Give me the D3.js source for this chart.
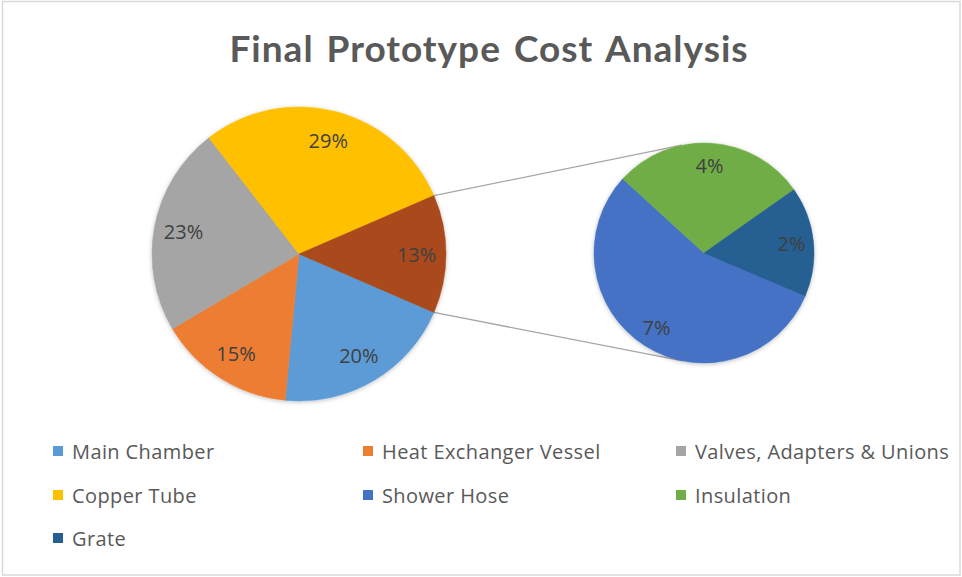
<!DOCTYPE html>
<html>
<head>
<meta charset="utf-8">
<script src="https://cdn.jsdelivr.net/npm/d3@7"></script>
<style>
  html, body { margin: 0; padding: 0; background: #fff; }
  svg { display: block; }
</style>
</head>
<body>
<svg id="chart" width="962" height="577"></svg>
<script>
// ---- data ----
const title = "Final Prototype Cost Analysis";
const mainCategories = ["Main Chamber", "Heat Exchanger Vessel", "Valves, Adapters & Unions", "Copper Tube"];
const mainValues = [20, 15, 23, 29];
const secondCategories = ["Shower Hose", "Insulation", "Grate"];
const secondValues = [7.2, 3.7, 2.1];
const legendOrder = ["Main Chamber", "Heat Exchanger Vessel", "Valves, Adapters & Unions",
                     "Copper Tube", "Shower Hose", "Insulation", "Grate"];

// ---- styles ----
const colors = {
  "Main Chamber": "#5B9BD5",
  "Heat Exchanger Vessel": "#ED7D31",
  "Valves, Adapters & Unions": "#A5A5A5",
  "Copper Tube": "#FFC000",
  "Other": "#A9481A",
  "Shower Hose": "#4472C4",
  "Insulation": "#70AD47",
  "Grate": "#255E91"
};

const svg = d3.select("#chart");
const W = 962, H = 577;

svg.append("rect").attr("width", W).attr("height", H).attr("fill", "#fff");
svg.append("rect")
  .attr("x", 2.5).attr("y", 1.5).attr("width", W - 4.5).attr("height", H - 3.5)
  .attr("fill", "none").attr("stroke", "#d9d9d9").attr("stroke-width", 1.5);

const defs = svg.append("defs");
const f = defs.append("filter").attr("id", "shadow")
  .attr("x", "-10%").attr("y", "-10%").attr("width", "120%").attr("height", "120%");
f.append("feDropShadow").attr("dx", 0).attr("dy", 1).attr("stdDeviation", 2)
  .attr("flood-color", "#000").attr("flood-opacity", 0.25);

svg.append("text")
  .attr("x", 489).attr("y", 62)
  .attr("text-anchor", "middle")
  .attr("font-family", "Lato, 'Open Sans', sans-serif")
  .attr("font-weight", "bold")
  .attr("font-size", 37)
  .attr("letter-spacing", 1)
  .attr("word-spacing", 3)
  .attr("fill", "#595959")
  .text(title);

const otherValue = d3.sum(secondValues);
const total = d3.sum(mainValues) + otherValue;
const mainData = mainCategories.map((c, i) => ({ name: c, value: mainValues[i] }))
  .concat([{ name: "Other", value: otherValue }]);
const secondData = secondCategories.map((c, i) => ({ name: c, value: secondValues[i] }));

const mainC = { x: 299, y: 254, r: 147 };
const secC = { x: 704, y: 253, r: 110 };

const otherAngle = 2 * Math.PI * otherValue / total;
const mainStart = Math.PI / 2 + otherAngle / 2;
const mainPie = d3.pie().sort(null).value(d => d.value)
  .startAngle(mainStart).endAngle(mainStart + 2 * Math.PI);
const secStart = 113 * Math.PI / 180;
const secPie = d3.pie().sort(null).value(d => d.value)
  .startAngle(secStart).endAngle(secStart + 2 * Math.PI);

// connector lines (tangents from the "Other" wedge corners to the secondary pie)
function corner(a) {
  return [mainC.x + mainC.r * Math.sin(a), mainC.y - mainC.r * Math.cos(a)];
}
function tangent(P, sign) {
  const dx = secC.x - P[0], dy = secC.y - P[1];
  const d = Math.hypot(dx, dy);
  const theta = Math.atan2(dy, dx);
  const alpha = Math.asin(secC.r / d);
  const L = Math.sqrt(d * d - secC.r * secC.r);
  const t = theta + sign * alpha;
  return [P[0] + L * Math.cos(t), P[1] + L * Math.sin(t)];
}
const pTop = corner(Math.PI / 2 - otherAngle / 2);
const pBot = corner(Math.PI / 2 + otherAngle / 2);
const lines = [[pTop, tangent(pTop, -1)], [pBot, tangent(pBot, 1)]];
svg.append("g").selectAll("line").data(lines).join("line")
  .attr("x1", d => d[0][0]).attr("y1", d => d[0][1])
  .attr("x2", d => d[1][0]).attr("y2", d => d[1][1])
  .attr("stroke", "#a6a6a6").attr("stroke-width", 1.3);

function drawPie(arcs, c) {
  const g = svg.append("g").attr("transform", `translate(${c.x},${c.y})`);
  const arc = d3.arc().innerRadius(0).outerRadius(c.r);
  const gs = g.append("g").attr("filter", "url(#shadow)");
  gs.selectAll("path").data(arcs).join("path")
    .attr("d", arc)
    .attr("fill", d => colors[d.data.name])
    .attr("stroke", d => colors[d.data.name]).attr("stroke-width", 0.5);
  const lab = d3.arc().innerRadius(c.r * 0.8).outerRadius(c.r * 0.8);
  g.selectAll("text").data(arcs).join("text")
    .attr("transform", d => `translate(${lab.centroid(d)})`)
    .attr("text-anchor", "middle")
    .attr("dominant-baseline", "central")
    .attr("font-family", "'Open Sans', sans-serif")
    .attr("font-size", 20)
    .attr("fill", "#404040")
    .text(d => Math.round(d.data.value / total * 100) + "%");
}
drawPie(mainPie(mainData), mainC);
drawPie(secPie(secondData), secC);

// legend
const colX = [53, 363, 676];
const rowY = [451, 495, 538];
const lg = svg.append("g");
const items = lg.selectAll("g").data(legendOrder).join("g")
  .attr("transform", (d, i) => `translate(${colX[i % 3]},${rowY[Math.floor(i / 3)]})`);
items.append("rect").attr("x", 0).attr("y", -5).attr("width", 10).attr("height", 10)
  .attr("fill", d => colors[d]);
items.append("text").attr("x", 19).attr("y", 0)
  .attr("dominant-baseline", "central")
  .attr("font-family", "'Open Sans', sans-serif")
  .attr("font-size", 20)
  .attr("letter-spacing", 0.4)
  .attr("fill", "#595959")
  .text(d => d);
</script>
</body>
</html>
